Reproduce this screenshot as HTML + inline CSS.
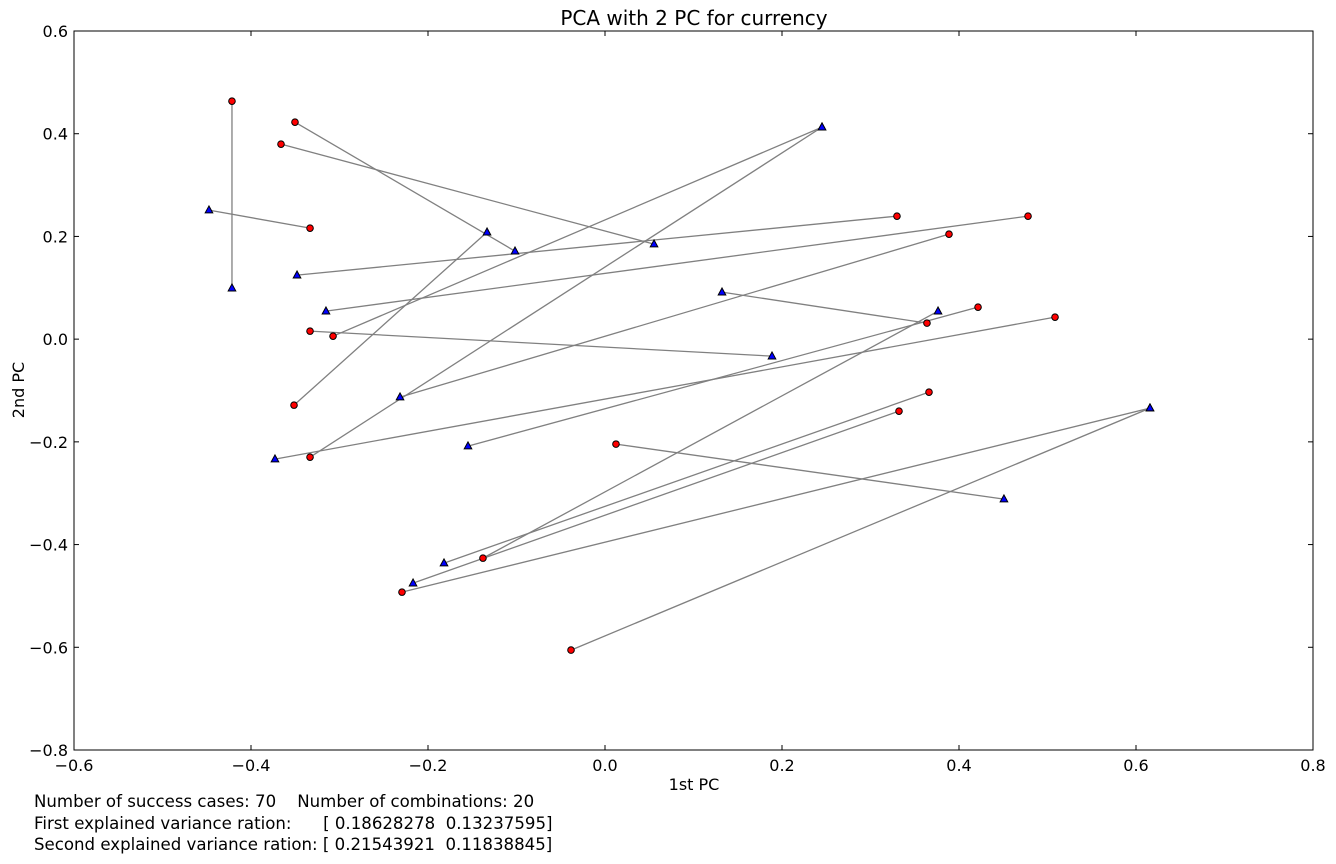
<!DOCTYPE html>
<html><head><meta charset="utf-8"><style>
html,body{margin:0;padding:0;background:#fff;}
svg{display:block;font-family:"DejaVu Sans","Liberation Sans",sans-serif;}
</style></head><body>
<svg id="chart" width="1336" height="864"></svg>
<script>
const redX=[-0.4215,-0.3503,-0.3661,-0.3333,0.3299,0.4780,-0.3333,-0.3073,-0.3514,-0.3333,0.3887,0.5085,0.4215,0.3638,-0.1379,0.3661,0.3322,0.0124,-0.2294,-0.0384];
const redY=[0.4634,0.4225,0.3797,0.2161,0.2395,0.2395,0.0156,0.0058,-0.1285,-0.2298,0.2044,0.0428,0.0623,0.0312,-0.4264,-0.1032,-0.1402,-0.2044,-0.4926,-0.6055];
const blueX=[-0.4215,-0.1017,0.0554,-0.4475,-0.3480,-0.3153,0.1887,0.2452,-0.1333,0.2452,-0.2316,-0.3729,-0.1548,0.1322,0.3763,-0.1819,-0.2169,0.4508,0.6158,0.6158];
const blueY=[0.0993,0.1713,0.1850,0.2512,0.1246,0.0545,-0.0331,0.4128,0.2083,0.4128,-0.1129,-0.2336,-0.2083,0.0915,0.0545,-0.4361,-0.4751,-0.3115,-0.1343,-0.1343];
const xTicks=[-0.6,-0.4,-0.2,0.0,0.2,0.4,0.6,0.8];
const yTicks=[-0.8,-0.6,-0.4,-0.2,0.0,0.2,0.4,0.6];
const L=74,T=31,R=1313,B=750,xmin=-0.6,xmax=0.8,ymin=-0.8,ymax=0.6;
function sx(v){return L+(v-xmin)/(xmax-xmin)*(R-L);}
function sy(v){return B-(v-ymin)/(ymax-ymin)*(B-T);}
const svg=document.getElementById('chart');
const NS='http://www.w3.org/2000/svg';
function mk(tag,attrs,parent){const e=document.createElementNS(NS,tag);for(const k in attrs)e.setAttribute(k,attrs[k]);(parent||svg).appendChild(e);return e;}
function txt(s,attrs){const e=mk('text',attrs);e.textContent=s;return e;}
const lab=(v)=>{let s=v.toFixed(1);return s.startsWith('-')?'\u2212'+s.slice(1):s;};
for(let i=0;i<redX.length;i++){
  const l=mk('line',{x1:sx(redX[i]),y1:sy(redY[i]),x2:sx(blueX[i]),y2:sy(blueY[i]),stroke:'#808080','stroke-width':1.3});
  
  
}
for(let i=0;i<redX.length;i++){
  const c=mk('circle',{cx:sx(redX[i]),cy:sy(redY[i]),r:3.3,fill:'#ff0000',stroke:'#000','stroke-width':1});
  
  
  const x=sx(blueX[i]),y=sy(blueY[i]);
  const p=mk('polygon',{points:`${x},${y-4.2} ${x-3.8},${y+2.8} ${x+3.8},${y+2.8}`,fill:'#0000ff',stroke:'#000','stroke-width':1});
  
  
}
const frame=mk('rect',{x:L,y:T,width:R-L,height:B-T,fill:'none',stroke:'#000','stroke-width':1});


xTicks.forEach(v=>{const x=sx(v);
  mk('line',{x1:x,y1:B,x2:x,y2:B-5,stroke:'#000'});mk('line',{x1:x,y1:T,x2:x,y2:T+5,stroke:'#000'});
  const t=txt(lab(v),{x:x,y:B+21,'text-anchor':'middle','font-size':16});
  
  
});
yTicks.forEach(v=>{const y=sy(v);
  mk('line',{x1:L,y1:y,x2:L+5,y2:y,stroke:'#000'});mk('line',{x1:R,y1:y,x2:R-5,y2:y,stroke:'#000'});
  const t=txt(lab(v),{x:L-6,y:y+6,'text-anchor':'end','font-size':16});
  
  
});
</script>
<script>
(function(){
const svg=document.getElementById('chart');const NS='http://www.w3.org/2000/svg';
function t(s,a,name){const e=document.createElementNS(NS,'text');for(const k in a)e.setAttribute(k,a[k]);e.textContent=s;svg.appendChild(e);}
t('PCA with 2 PC for currency',{x:694,y:25,'text-anchor':'middle','font-size':20},'chart-title');
t('1st PC',{x:694,y:790,'text-anchor':'middle','font-size':16},'x-axis-title');
t('2nd PC',{x:24,y:390,'text-anchor':'middle','font-size':16,transform:'rotate(-90 24 390)'},'y-axis-title');
t('Number of success cases: 70    Number of combinations: 20',{x:34,y:807,'font-size':16.6,style:'white-space:pre'},'footer-line-1');
t('First explained variance ration:      [ 0.18628278  0.13237595]',{x:34,y:829,'font-size':16.6,style:'white-space:pre'},'footer-line-2');
t('Second explained variance ration: [ 0.21543921  0.11838845]',{x:34,y:850,'font-size':16.6,style:'white-space:pre'},'footer-line-3');
})();
</script>
</body></html>
